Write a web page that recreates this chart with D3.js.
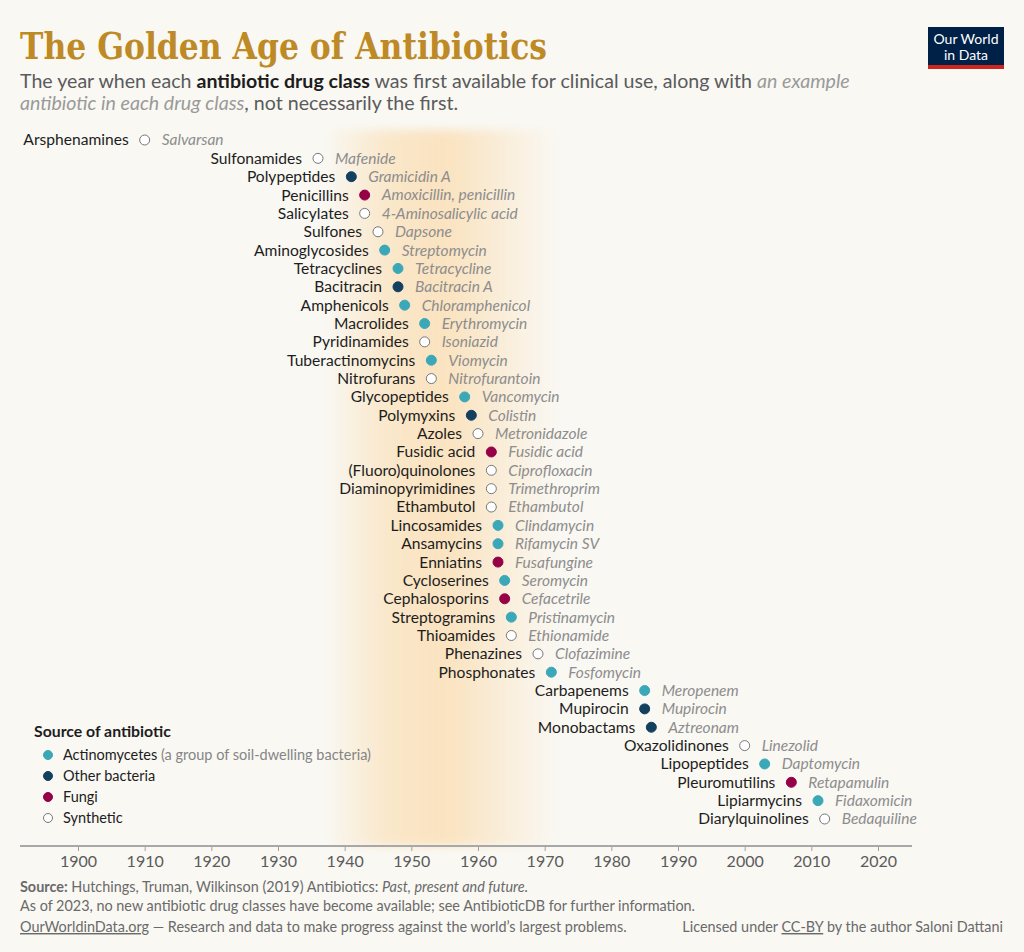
<!DOCTYPE html>
<html><head><meta charset="utf-8">
<script src="https://cdn.jsdelivr.net/npm/d3@7"></script>
<style>
html,body{margin:0;padding:0;background:#f9f8f3;}
svg{display:block;font-family:Lato,"Noto Sans",sans-serif;}
</style></head>
<body>
<script>
const classNames = ["Arsphenamines","Sulfonamides","Polypeptides","Penicillins","Salicylates","Sulfones","Aminoglycosides","Tetracyclines","Bacitracin","Amphenicols","Macrolides","Pyridinamides","Tuberactinomycins","Nitrofurans","Glycopeptides","Polymyxins","Azoles","Fusidic acid","(Fluoro)quinolones","Diaminopyrimidines","Ethambutol","Lincosamides","Ansamycins","Enniatins","Cycloserines","Cephalosporins","Streptogramins","Thioamides","Phenazines","Phosphonates","Carbapenems","Mupirocin","Monobactams","Oxazolidinones","Lipopeptides","Pleuromutilins","Lipiarmycins","Diarylquinolines"];
const years = [1910,1936,1941,1943,1943,1945,1946,1948,1948,1949,1952,1952,1953,1953,1958,1959,1960,1962,1962,1962,1962,1963,1963,1963,1964,1964,1965,1965,1969,1971,1985,1985,1986,2000,2003,2007,2011,2012];
const examples = ["Salvarsan","Mafenide","Gramicidin A","Amoxicillin, penicillin","4-Aminosalicylic acid","Dapsone","Streptomycin","Tetracycline","Bacitracin A","Chloramphenicol","Erythromycin","Isoniazid","Viomycin","Nitrofurantoin","Vancomycin","Colistin","Metronidazole","Fusidic acid","Ciprofloxacin","Trimethroprim","Ethambutol","Clindamycin","Rifamycin SV","Fusafungine","Seromycin","Cefacetrile","Pristinamycin","Ethionamide","Clofazimine","Fosfomycin","Meropenem","Mupirocin","Aztreonam","Linezolid","Daptomycin","Retapamulin","Fidaxomicin","Bedaquiline"];
const sources = ["S","S","O","F","S","S","A","A","O","A","A","S","A","S","A","O","S","F","S","S","S","A","A","F","A","F","A","S","S","A","A","O","O","S","A","F","A","S"];
const sourceKeys = ["A","O","F","S"];
const sourceLabels = ["Actinomycetes","Other bacteria","Fungi","Synthetic"];
const xTicks = [1900,1910,1920,1930,1940,1950,1960,1970,1980,1990,2000,2010,2020];
const goldenAge = [1937, 1973];

const W=1024,H=952;
const svg=d3.select("body").append("svg").attr("width",W).attr("height",H);
svg.append("rect").attr("width",W).attr("height",H).attr("fill","#f9f8f3");

const x=d3.scaleLinear().domain([1900,2020]).range([78,878]);
const y=d3.scalePoint().domain(classNames).range([140,819]);
const fill=d3.scaleOrdinal().domain(sourceKeys).range(["#3ba8b8","#14405f","#960046","#ffffff"]);
const stroke=d3.scaleOrdinal().domain(sourceKeys).range(["#3ba8b8","#14405f","#960046","#777777"]);

const defs=svg.append("defs");
const lg=defs.append("linearGradient").attr("id","band").attr("x1","0").attr("x2","1").attr("y1","0").attr("y2","0");
[[0,0],[0.1,0.3],[0.25,0.7],[0.42,0.88],[0.52,0.9],[0.65,0.65],[0.82,0.3],[0.95,0.05],[1,0]].forEach(s=>lg.append("stop").attr("offset",s[0]).attr("stop-color","#fae1bb").attr("stop-opacity",s[1]));
const bl=defs.append("filter").attr("id","blur").attr("x","-20%").attr("y","-5%").attr("width","140%").attr("height","110%");
bl.append("feGaussianBlur").attr("stdDeviation",5);
svg.append("rect").attr("x",x(goldenAge[0])).attr("y",130).attr("width",x(goldenAge[1])-x(goldenAge[0])).attr("height",716)
  .attr("fill","url(#band)").attr("filter","url(#blur)");

// title
svg.append("text").attr("x",20).attr("y",59).attr("font-family","'DejaVu Serif','Liberation Serif',serif").attr("font-weight","bold")
  .attr("font-size",37).attr("fill","#be8a26").attr("textLength",527).attr("lengthAdjust","spacingAndGlyphs").text("The Golden Age of Antibiotics");
const sub1=svg.append("text").attr("x",20).attr("y",88).attr("font-size",19.6).attr("fill","#5b5b5b");
sub1.append("tspan").text("The year when each ");
sub1.append("tspan").attr("font-weight","bold").attr("fill","#1d1d1d").text("antibiotic drug class");
sub1.append("tspan").text(" was first available for clinical use, along with ");
sub1.append("tspan").attr("font-style","italic").attr("fill","#9a9a9a").text("an example");
const sub2=svg.append("text").attr("x",20).attr("y",110).attr("font-size",19.6).attr("fill","#5b5b5b");
sub2.append("tspan").attr("font-style","italic").attr("fill","#9a9a9a").text("antibiotic in each drug class");
sub2.append("tspan").text(", not necessarily the first.");

// logo
svg.append("rect").attr("x",928).attr("y",27).attr("width",76).attr("height",42).attr("fill","#002147");
svg.append("rect").attr("x",928).attr("y",65).attr("width",76).attr("height",4).attr("fill","#ce261e");
svg.append("text").attr("x",966).attr("y",44).attr("text-anchor","middle").attr("font-size",14).attr("fill","#fff").text("Our World");
svg.append("text").attr("x",966).attr("y",60).attr("text-anchor","middle").attr("font-size",14).attr("fill","#fff").text("in Data");

// axis
const axisY=846;
const ax=svg.append("g").attr("transform",`translate(0,${axisY})`)
  .call(d3.axisBottom(x).tickValues(xTicks).tickFormat(d3.format("d")).tickSize(5).tickPadding(5));
ax.select(".domain").remove();
ax.selectAll(".tick line").attr("stroke","#a0a0a0");
ax.selectAll(".tick text").attr("font-size",16).attr("fill","#5b5b5b").attr("font-family","Lato,sans-serif");
svg.append("line").attr("x1",20).attr("x2",912).attr("y1",axisY).attr("y2",axisY).attr("stroke","#a8a8a8").attr("stroke-width",2);

// rows
const rows=svg.append("g").selectAll("g").data(classNames).join("g")
  .attr("transform",(d,i)=>`translate(${x(years[i])},${y(d)})`);
rows.append("text").attr("x",-16).attr("dy","0.35em").attr("text-anchor","end").attr("font-size",15.6).attr("fill","#1d1d1d").text(d=>d);
rows.append("circle").attr("r",5).attr("fill",(d,i)=>fill(sources[i])).attr("stroke",(d,i)=>stroke(sources[i])).attr("stroke-width",1);
rows.append("text").attr("x",17).attr("dy","0.35em").attr("font-size",15.5).attr("font-style","italic").attr("fill","#8d8d8d").text((d,i)=>examples[i]);

// legend
svg.append("text").attr("x",34).attr("y",737).attr("font-size",15.8).attr("font-weight","bold").attr("fill","#1d1d1d").text("Source of antibiotic");
const lgY=[755,776,797,818];
const leg=svg.append("g").selectAll("g").data(sourceKeys).join("g").attr("transform",(d,i)=>`translate(48,${lgY[i]})`);
leg.append("circle").attr("r",4.5).attr("fill",d=>fill(d)).attr("stroke",d=>stroke(d));
const lt=leg.append("text").attr("x",15).attr("dy","0.35em").attr("font-size",14.5).attr("fill","#1d1d1d");
lt.append("tspan").text((d,i)=>sourceLabels[i]);
lt.filter(d=>d==="A").append("tspan").attr("fill","#858585").text(" (a group of soil-dwelling bacteria)");

// footer
const f1=svg.append("text").attr("x",20).attr("y",892).attr("font-size",14.4).attr("fill","#6a6a6a");
f1.append("tspan").attr("font-weight","bold").text("Source:");
f1.append("tspan").text(" Hutchings, Truman, Wilkinson (2019) Antibiotics: ");
f1.append("tspan").attr("font-style","italic").text("Past, present and future.");
svg.append("text").attr("x",20).attr("y",911).attr("font-size",14.4).attr("fill","#6a6a6a").text("As of 2023, no new antibiotic drug classes have become available; see AntibioticDB for further information.");
const f3=svg.append("text").attr("x",20).attr("y",932).attr("font-size",14.4).attr("fill","#6a6a6a");
f3.append("tspan").attr("text-decoration","underline").text("OurWorldinData.org");
f3.append("tspan").text(" — Research and data to make progress against the world’s largest problems.");
const f4=svg.append("text").attr("x",1003).attr("y",932).attr("text-anchor","end").attr("font-size",14.4).attr("fill","#6a6a6a");
f4.append("tspan").text("Licensed under ");
f4.append("tspan").attr("text-decoration","underline").text("CC-BY");
f4.append("tspan").text(" by the author Saloni Dattani");
</script>
</body></html>
